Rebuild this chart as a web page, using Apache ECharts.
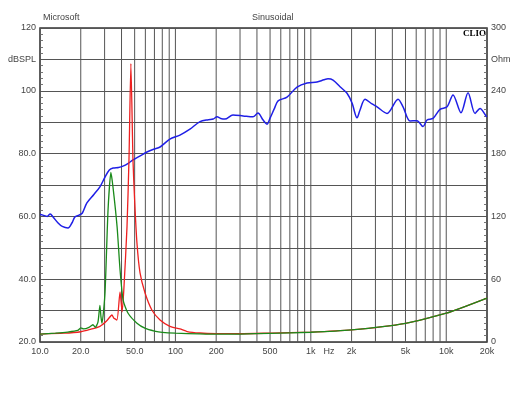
<!DOCTYPE html>
<html>
<head>
<meta charset="utf-8">
<script src="https://cdn.jsdelivr.net/npm/echarts@6/dist/echarts.min.js"></script>
<style>
  html, body { margin: 0; padding: 0; background: #fff; }
  #chart { width: 530px; height: 398px; }
</style>
</head>
<body>
<div id="chart"></div>
<script>
// SPL response (dB)
var splFreq = [10, 10.5, 11.3, 11.9, 12.5, 13.6, 14.6, 16.1, 17.2, 18.1, 19.4, 20.5, 22.2, 25, 27.7, 30.2, 32.5, 34.7, 38, 41,
  44.5, 48.6, 55, 61.6, 69, 77, 91, 108, 128, 152, 175, 190, 203, 216, 232, 266, 316, 374, 407, 444,
  475, 500, 540, 573, 667, 791, 937, 1111, 1250, 1340, 1459, 1643, 1851, 2015, 2194, 2309, 2514, 2831, 3083, 3654,
  4406, 4798, 5403, 6085, 6741, 7216, 7990, 8995, 10140, 11220, 12850, 14490, 16320, 17770, 19680, 20000];
var splDb = [60.6, 60.4, 60.0, 60.8, 59.8, 57.9, 56.8, 56.3, 57.9, 59.8, 60.4, 61, 64.3, 67, 69.4, 72.5, 74.8, 75.4, 75.6, 76.0,
  76.8, 78.0, 79.3, 80.5, 81.4, 82.1, 84.6, 85.9, 87.8, 90.2, 90.8, 91.0, 91.7, 91.2, 91.0, 92.3, 92.0, 91.7, 92.9, 90.7,
  89.4, 91.3, 94.5, 96.8, 98.0, 101.2, 102.5, 102.8, 103.5, 103.8, 103.4, 101.3, 99.2, 96.1, 91.4, 93.9, 97.3, 95.8, 94.9, 92.8,
  97.3, 94.9, 90.4, 90.5, 88.6, 90.7, 91.2, 94.1, 94.9, 98.7, 93.0, 99.4, 92.8, 94.4, 92.0, 91.8];

// impedance, green curve (Ohm)
var greenFreq = [10, 13, 16, 19, 20, 21, 23, 24.6, 25.6, 26.8, 27.7, 28.2, 28.7, 30.2, 31.8, 33.4, 34.6, 37.1, 39, 41.1,
  44.6, 52, 60, 70, 80, 100, 150, 200, 300, 500, 1000, 2000, 5000, 10000, 20000];
var greenOhm = [7.6, 8.5, 9.5, 11, 13.5, 12.5, 14, 16.5, 14, 19, 35, 24, 18, 47, 126, 162, 148, 110, 69, 40,
  27.7, 18, 13, 10.5, 9.2, 8.4, 7.8, 7.5, 7.6, 8.3, 9.3, 11.5, 17.8, 27.5, 42];

// impedance, red curve (Ohm)
var redFreq = [10, 15, 20, 23.4, 27.7, 31, 34, 35, 37, 39, 40.4, 41.7, 43.9, 45.4, 46.9, 48.6, 50, 52, 54.8, 59.6,
  67, 77, 91, 108, 122, 152, 200, 300, 500, 1000, 2000, 5000, 10000, 20000];
var redOhm = [7.6, 8.4, 9.8, 12, 15, 20, 25.8, 23, 21, 47.8, 28.7, 52.5, 110, 174, 266, 174, 135, 94.6, 66, 47,
  30.6, 21, 15, 12.5, 10, 8.6, 8, 7.9, 8.5, 9.4, 11.5, 17.8, 27.5, 42];

// x grid and labels
var gridFreqs = [10, 20, 30, 40, 50, 60, 70, 80, 90, 100, 200, 300, 400, 500, 600, 700, 800, 900,
  1000, 2000, 3000, 4000, 5000, 6000, 7000, 8000, 9000, 10000, 20000];
var tickFreqs = [10, 20, 50, 100, 200, 500, 1000, 1360, 2000, 5000, 10000, 20000];
var tickLabels = ['10.0', '20.0', '50.0', '100', '200', '500', '1k', 'Hz', '2k', '5k', '10k', '20k'];

var leftVals = [120, 110, 100, 80, 60, 40, 20];
var leftText = ['120', 'dBSPL', '100', '80.0', '60.0', '40.0', '20.0'];
var rightVals = [300, 270, 240, 180, 120, 60, 0];
var rightText = ['300', 'Ohm', '240', '180', '120', '60', '0'];

function zip(a, b) {
  return a.map(function (v, i) { return [v, b[i]]; });
}

var myChart = echarts.init(document.getElementById('chart'));
var font = 'Liberation Sans, Arial, sans-serif';

var option = {
  animation: false,
  title: [
    { text: 'Microsoft', left: 38, top: 8, textStyle: { fontSize: 9, fontWeight: 'normal', color: '#444', fontFamily: font } },
    { text: 'Sinusoidal', left: 247, top: 8, textStyle: { fontSize: 9, fontWeight: 'normal', color: '#444', fontFamily: font } }
  ],
  graphic: [
    { type: 'text', right: 44, top: 29, style: { text: 'CLIO', font: 'bold 9px "Liberation Serif", serif', fill: '#000' } }
  ],
  grid: { left: 40, right: 43, top: 28, bottom: 56, show: true, borderColor: '#333', borderWidth: 1.5 },
  xAxis: {
    type: 'log', logBase: 10, min: 10, max: 20000,
    axisLine: { show: false }, axisTick: { show: false },
    axisLabel: { show: false }, splitLine: { show: false }
  },
  yAxis: [
    {
      type: 'value', min: 20, max: 120, interval: 10, position: 'left',
      axisLine: { show: false },
      axisTick: { show: true, inside: true, length: 4, lineStyle: { color: '#555' } },
      minorTick: { show: true, splitNumber: 5, length: 3, lineStyle: { color: '#777' } },
      axisLabel: {
        fontSize: 9, color: '#444', fontFamily: font, margin: 4,
        formatter: function (v) { var i = leftVals.indexOf(v); return i < 0 ? '' : leftText[i]; }
      },
      splitLine: { show: true, lineStyle: { color: '#555', width: 1 } }
    },
    {
      type: 'value', min: 0, max: 300, interval: 30, position: 'right',
      axisLine: { show: false },
      axisTick: { show: true, inside: true, length: 4, lineStyle: { color: '#555' } },
      minorTick: { show: true, splitNumber: 5, length: 3, lineStyle: { color: '#777' } },
      axisLabel: {
        fontSize: 9, color: '#444', fontFamily: font, margin: 4,
        formatter: function (v) { var i = rightVals.indexOf(v); return i < 0 ? '' : rightText[i]; }
      },
      splitLine: { show: false }
    }
  ],
  series: [
    {
      type: 'custom', z: 1, silent: true, clip: false,
      data: gridFreqs.map(function (f) { return [f, 20]; }),
      renderItem: function (params, api) {
        var top = api.coord([api.value(0), 120]);
        var bot = api.coord([api.value(0), 20]);
        return {
          type: 'line',
          shape: { x1: top[0], y1: top[1], x2: bot[0], y2: bot[1] },
          style: { stroke: '#555', lineWidth: 1 }
        };
      }
    },
    {
      type: 'custom', z: 1, silent: true, clip: false,
      data: tickFreqs.map(function (f) { return [f, 20]; }),
      renderItem: function (params, api) {
        var p = api.coord([api.value(0), 20]);
        return {
          type: 'text', x: p[0], y: p[1] + 10,
          style: {
            text: tickLabels[params.dataIndex], fill: '#444',
            font: '9px ' + font, align: 'center', verticalAlign: 'middle'
          }
        };
      }
    },
    {
      name: 'SPL', type: 'line', yAxisIndex: 0, z: 3, showSymbol: false, smooth: 0.3,
      data: zip(splFreq, splDb),
      lineStyle: { color: '#1f1fe6', width: 1.5 }
    },
    {
      name: 'Z red', type: 'line', yAxisIndex: 1, z: 3, showSymbol: false, smooth: 0.2,
      data: zip(redFreq, redOhm),
      lineStyle: { color: '#ee2020', width: 1.3 }
    },
    {
      name: 'Z green', type: 'line', yAxisIndex: 1, z: 4, showSymbol: false, smooth: 0.2,
      data: zip(greenFreq, greenOhm),
      lineStyle: { color: '#1a8a1a', width: 1.3 }
    }
  ]
};
myChart.setOption(option);
</script>
</body>
</html>
